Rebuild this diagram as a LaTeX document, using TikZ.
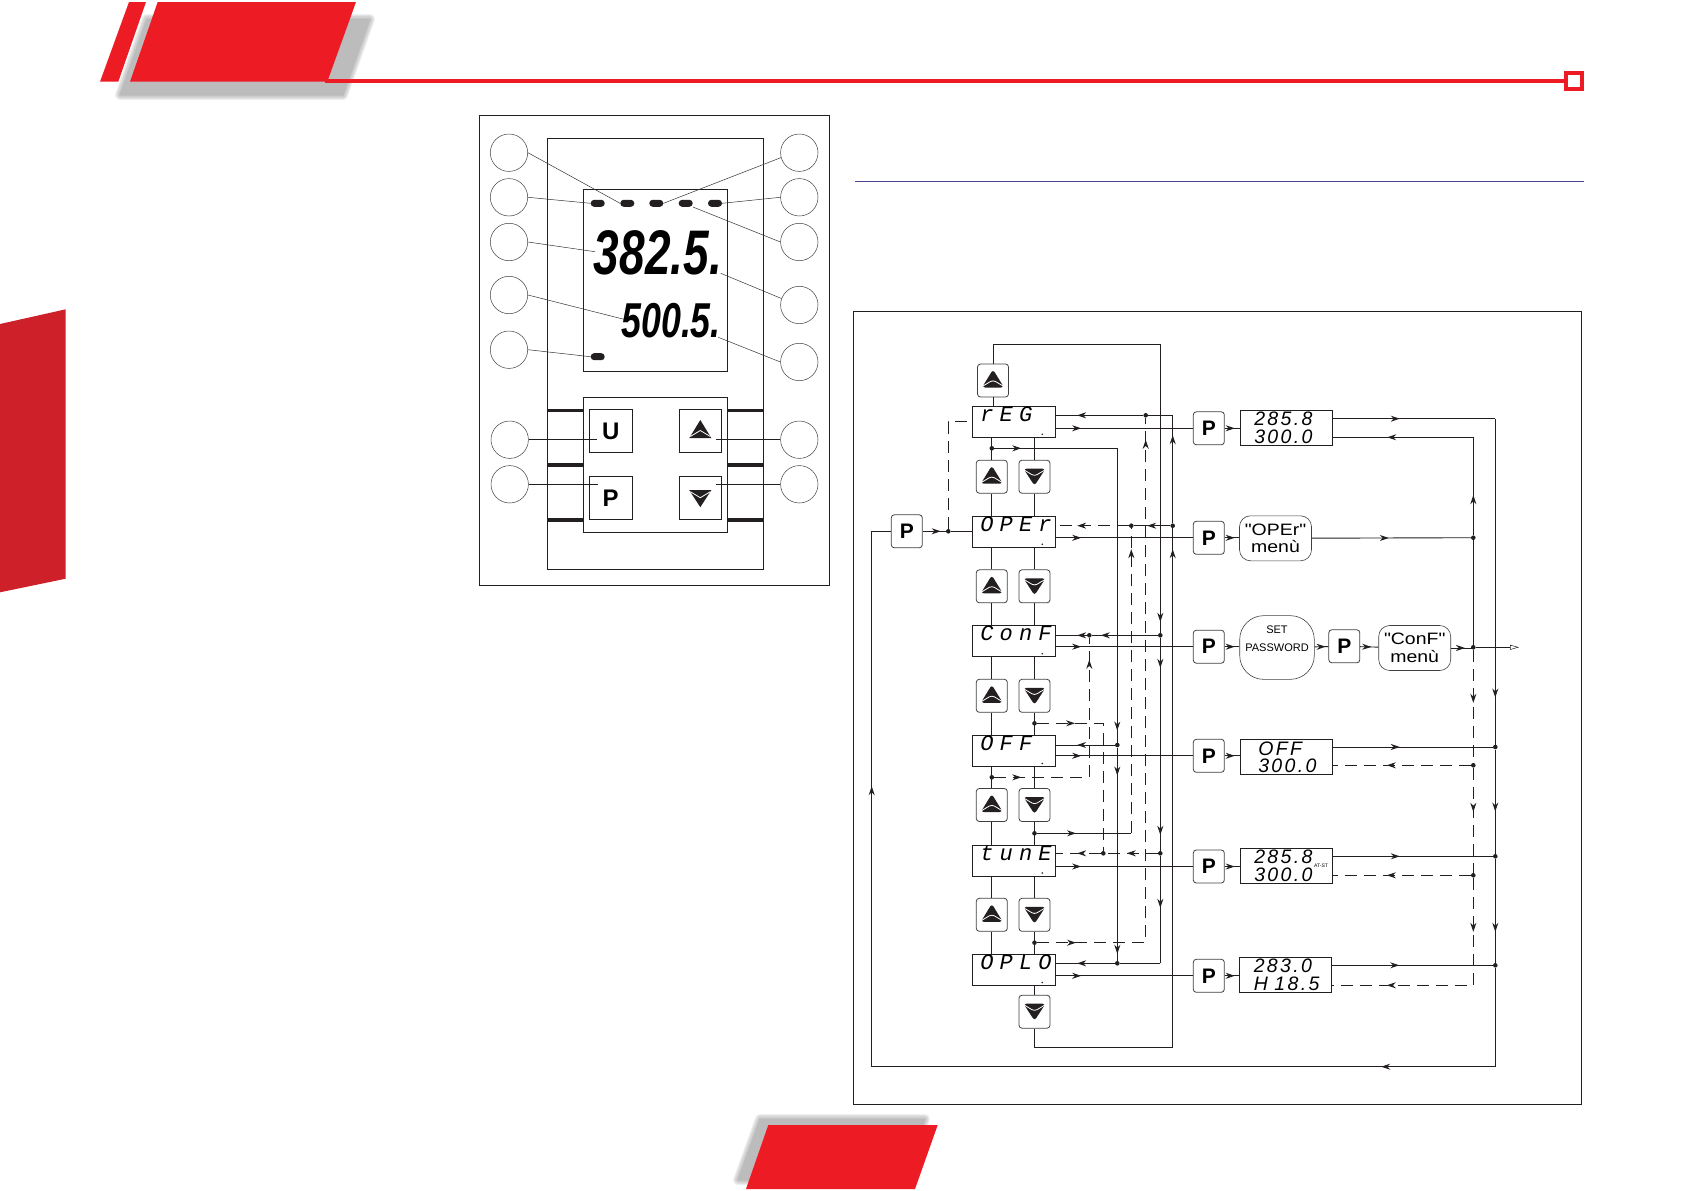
\documentclass[tikz,border=0pt]{standalone}
\usepackage{fontspec}
\setmainfont{Liberation Sans}
\newfontfamily\lcdword[LetterSpace=28]{Liberation Mono}
\newfontfamily\lcdnum[LetterSpace=12]{Liberation Sans}
\newfontfamily\lcdbig[FakeStretch=0.73]{Liberation Sans}
\newfontfamily\menufont[FakeStretch=1.18]{Liberation Sans}
\usetikzlibrary{arrows.meta,calc,decorations.markings}
\definecolor{brandred}{HTML}{ED1C24}
\definecolor{sidered}{HTML}{CE2029}
\definecolor{inkdark}{HTML}{231F20}
\definecolor{rulepurple}{HTML}{4A4590}

\begin{document}
\begin{tikzpicture}[
    x=1pt, y=-1pt,
    % Styles for the front panel
    panelbox/.style={rectangle, draw=inkdark, line width=1pt, inner sep=0pt},
    callout/.style={circle, draw=black!75, line width=0.5pt, minimum size=37.4pt, inner sep=0pt},
    calloutline/.style={draw=black!80, line width=0.5pt},
    pinline/.style={draw=inkdark, line width=0.8pt},
    led/.style={rectangle, fill=inkdark, rounded corners=3.4pt, minimum width=14pt, minimum height=7pt, inner sep=0pt},
    panelkey/.style={rectangle, draw=inkdark, line width=0.9pt, minimum size=42.6pt, inner sep=0pt,
        font=\fontsize{24}{24}\selectfont\bfseries},
    % Styles for the flow chart
    flowkey/.style={rectangle, draw=black!75, line width=0.8pt, rounded corners=3pt, minimum width=31pt,
        minimum height=33pt, inner sep=0pt, font=\fontsize{21}{21}\selectfont\bfseries},
    upkey/.style={path picture={
        \begin{scope}[shift={(path picture bounding box.center)}, scale=#1]
            \fill[inkdark] (-11,7) -- (0,-11) -- (11,7) -- cycle;
            \draw[white, line width=0.8pt] (-10,5.5) -- (0,-0.5) -- (10,5.5);
        \end{scope}}},
    downkey/.style={path picture={
        \begin{scope}[shift={(path picture bounding box.center)}, scale=#1]
            \fill[inkdark] (-11,-8) -- (11,-8) -- (0,9) -- cycle;
            \draw[white, line width=0.8pt] (-10,-6.5) -- (0,-0.5) -- (10,-6.5);
        \end{scope}}},
    lcdmode/.style={rectangle, draw=inkdark, line width=0.9pt, inner xsep=8pt, inner ysep=0pt,
        text width=67.4pt, align=left, text height=15pt, text depth=16pt,
        font=\lcdword\itshape\fontsize{22}{22}\selectfont,
        path picture={\fill[inkdark] ($(path picture bounding box.south east)+(-13.5,-3)$) circle (0.9pt);}},
    lcdval/.style={rectangle, draw=inkdark, line width=0.9pt, inner xsep=14pt, inner ysep=0pt, text width=64pt,
        minimum height=35pt, align=left, font=\lcdnum\itshape\fontsize{19.5}{17.5}\selectfont},
    menubox/.style={rectangle, draw=black!75, line width=0.6pt, rounded corners=11pt, minimum width=72pt,
        minimum height=45pt, inner sep=0pt, align=center, font=\menufont\fontsize{16.5}{17.5}\selectfont},
    wire/.style={draw=inkdark, line width=0.9pt},
    dashwire/.style={wire, dash pattern=on 12pt off 7pt},
    dot/.style={circle, fill=inkdark, minimum size=4.6pt, inner sep=0pt},
    tipat/.style={postaction={solid, decorate, decoration={markings,
        mark=at position #1pt with {\arrow[inkdark]{Stealth[length=9pt,width=6pt]}}}}}
]
\useasboundingbox (0,0) rectangle (1684,1191);

% Page furniture: header, side tab, bottom tab
\foreach \w in {10,8,6,3,1} {
    \begin{scope}[transparency group, opacity=0.06]
        \draw[black, line width=\w pt, line join=round, fill=black]
            (120,95) -- (147,19) -- (370,19) -- (343,95) -- cycle;
    \end{scope}
    \begin{scope}[transparency group, opacity=0.06]
        \draw[black, line width=\w pt, line join=round, fill=black]
            (738,1180) -- (760,1119) -- (925,1119) -- (903,1180) -- cycle;
    \end{scope}
}
\fill[brandred] (100,81.7) -- (129,2) -- (146,2) -- (118.3,81.7) -- cycle;
\fill[brandred] (130,81.7) -- (157.7,2) -- (356,2) -- (327.3,81.7) -- cycle;
\fill[sidered] (0,324) -- (65.7,309.3) -- (65.7,578.7) -- (0,592.3) -- cycle;
\fill[brandred] (746,1189) -- (768.3,1125) -- (937.7,1125) -- (915,1189) -- cycle;
\draw[brandred, line width=4pt] (325,81) -- (1566,81);
\node[rectangle, draw=brandred, line width=4pt, fill=white, minimum size=16pt, inner sep=0pt] (endmark) at (1574,80.7) {};
\draw[rulepurple, line width=1pt] (855,181.3) -- (1584,181.3);

% Front panel frame
\node[panelbox, minimum width=350.4pt, minimum height=470pt] (panelframe) at (654.5,350) {};
\node[panelbox, minimum width=215.6pt, minimum height=431pt] (bodybox) at (655.5,353.8) {};
\node[panelbox, minimum width=144pt, minimum height=182pt] (displaybox) at (655.3,280.3) {};
\node[panelbox, minimum width=144pt, minimum height=135.4pt] (keybox) at (655.3,465) {};

% Thick bars beside the keys
\foreach \y in {410.3,465,519.7} {
    \draw[inkdark, line width=3.6pt] (bodybox.west |- 0,\y) -- (keybox.west |- 0,\y);
    \draw[inkdark, line width=3.6pt] (keybox.east |- 0,\y) -- (bodybox.east |- 0,\y);
}

% Display
\foreach \i/\x in {1/597.7,2/627.3,3/656.3,4/685.7,5/715} {
    \node[led] (led\i) at (\x,203.3) {};
}
\node[led] (led6) at (597.7,356.7) {};
\node[font=\lcdbig\bfseries\itshape\fontsize{63}{63}\selectfont, anchor=east, inner sep=0pt] (pvtext) at (722,252.5) {382.5.};
\node[font=\lcdbig\bfseries\itshape\fontsize{49}{49}\selectfont, anchor=east, inner sep=0pt] (svtext) at (721,320.5) {500.5.};

% Panel keys
\node[panelkey] (keyU) at (610.7,431) {U};
\node[panelkey] (keyP) at (610.7,498.2) {P};
\node[panelkey, upkey=1.2] (keyUp) at (700.3,431) {};
\node[panelkey, downkey=1.2] (keyDn) at (700.3,498.2) {};

% Callout circles
\foreach \i/\y in {1/152.7,2/197.3,3/242,4/295,5/349.7} {
    \node[callout] (cl\i) at (509,\y) {};
}
\node[callout] (cl6) at (509.7,439.7) {};
\node[callout] (cl7) at (509.7,484.3) {};
\foreach \i/\y in {1/152.7,2/197.3,3/242,4/305,5/362,6/439.7,7/484.3} {
    \node[callout] (cr\i) at (799.3,\y) {};
}

% Free ends of the callout lines
\coordinate (pinPV) at (595,251.7);
\coordinate (pinSV) at (624,319.3);
\coordinate (pinPVd) at (720.7,273.3);
\coordinate (pinSVd) at (718.3,337.3);
\coordinate (pinU) at (597.3,439.7);
\coordinate (pinP) at (598.3,484.3);
\coordinate (pinUp) at (716,439.7);
\coordinate (pinDn) at (716,484.3);

\draw[calloutline] (cl1.east) -- (led2.west);
\draw[calloutline] (cl2.east) -- (led1.west);
\draw[calloutline] (cl3.east) -- (pinPV);
\draw[calloutline] (cl4.east) -- (pinSV);
\draw[calloutline] (cl5.east) -- (led6.west);
\draw[calloutline] (cr1.195) -- (led3.east);
\draw[calloutline] (cr2.west) -- (led5.east);
\draw[calloutline] (cr3.west) -- (led4.south east);
\draw[calloutline] (cr4.160) -- (pinPVd);
\draw[calloutline] (cr5.west) -- (pinSVd);
\draw[pinline] (cl6.east) -- (pinU);
\draw[pinline] (cl7.east) -- (pinP);
\draw[pinline] (cr6.west) -- (pinUp);
\draw[pinline] (cr7.west) -- (pinDn);

% Flow chart frame
\node[panelbox, minimum width=728.4pt, minimum height=793.3pt] (flowframe) at (1217.5,708.3) {};

% Mode displays
\node[lcdmode] (reg) at (1014,421.8) {rEG};
\node[lcdmode] (oper) at (1014,531.8) {OPEr};
\node[lcdmode] (conf) at (1014,641.3) {ConF};
\node[lcdmode] (off) at (1014,751) {OFF};
\node[lcdmode] (tune) at (1014,860.5) {tunE};
\node[lcdmode] (oplo) at (1014,970) {OPLO};

% Arrow keys between the displays
\node[flowkey, upkey=1] (uptop) at (993,380.5) {};
\foreach \row/\y in {1/476.7,2/586.3,3/695.8,4/805,5/914.8} {
    \node[flowkey, upkey=1] (up\row) at (991.8,\y) {};
    \node[flowkey, downkey=1] (dn\row) at (1034.5,\y) {};
}
\node[flowkey, downkey=1] (dnend) at (1034.5,1011.7) {};
\foreach \row/\a/\b in {1/reg/oper,2/oper/conf,3/conf/off,4/off/tune,5/tune/oplo} {
    \draw[wire] (up\row) -- (up\row |- \a.south);
    \draw[wire] (up\row) -- (up\row |- \b.north);
    \draw[wire] (dn\row) -- (dn\row |- \a.south);
    \draw[wire] (dn\row) -- (dn\row |- \b.north);
}
\draw[wire] (uptop) -- (uptop |- reg.north);
\draw[wire] (dnend) -- (dnend |- oplo.south);

% P keys and right hand displays
\node[flowkey] (pkey) at (906.8,531.3) {P};
\node[flowkey] (regP) at (1208.8,428.3) {P};
\node[flowkey] (operP) at (1208.8,537.8) {P};
\node[flowkey] (confP) at (1208.8,646.7) {P};
\node[flowkey] (offP) at (1208.8,755.8) {P};
\node[flowkey] (tuneP) at (1208.8,866.5) {P};
\node[flowkey] (oploP) at (1208.8,975.8) {P};
\node[lcdval] (regval) at (1286.3,427.8) {285.8\\300.0};
\node[menubox] (operm) at (1275.5,538.3) {"OPEr"\\menù};
\node[menubox, minimum width=74.6pt, minimum height=63.7pt, rounded corners=24pt, font=\fontsize{11}{18}\selectfont] (setpw) at (1277,647.5) {SET\\PASSWORD\\~};
\node[flowkey] (confPb) at (1344.3,646.3) {P};
\node[menubox] (confm) at (1414.7,648) {"ConF"\\menù};
\node[lcdval, inner xsep=18pt, text width=56pt] (offval) at (1286.3,757.3) {OFF\\300.0};
\node[lcdval] (tuneval) at (1286.3,865.8) {285.8\\300.0};
\node[font=\fontsize{5}{5}\selectfont, inner sep=0pt] (tunetag) at (1321,866) {AT-ST};
\node[lcdval] (oploval) at (1285.8,974.8) {283.0\\\mbox{H 18.5}};

% Junctions
\node[dot] (dotA) at (991.8,448.3) {};
\node[dot] (dotB) at (1034.5,723.3) {};
\node[dot] (dotC) at (991.8,777.3) {};
\node[dot] (dotD) at (1034.5,833.3) {};
\node[dot] (dotE) at (1034.5,942.7) {};
\node[dot] (dotP) at (948.3,531.3) {};
\node[dot] (regJa) at (1145.7,415.3) {};
\node[dot] (operJa) at (1131.3,525.7) {};
\node[dot] (operJb) at (1172.7,525.7) {};
\node[dot] (confJa) at (1089.3,635.3) {};
\node[dot] (confJb) at (1160.3,635.3) {};
\node[dot] (offJ) at (1117.3,745) {};
\node[dot] (tuneJa) at (1103.3,853.3) {};
\node[dot] (tuneJb) at (1160.3,853.3) {};
\node[dot] (oploJ) at (1117.3,963.3) {};
\node[dot] (operR) at (1473.3,537.7) {};
\node[dot] (confR) at (1473.3,647.3) {};
\node[dot] (offD) at (1473.3,765.3) {};
\node[dot] (tuneD) at (1473.3,875.3) {};
\node[dot] (offR) at (1495.3,747) {};
\node[dot] (tuneR) at (1495.3,856.3) {};
\node[dot] (oploR) at (1495.3,965.3) {};

% Corners and free ends
\coordinate (ctop) at (1160.3,344.3);
\coordinate (cdrop) at (1160.3,963.3);
\coordinate (cbot) at (1172.7,1047.3);
\coordinate (cregr) at (1172.7,415.3);
\coordinate (cE) at (1145.7,942.7);
\coordinate (cD) at (1131.3,833.3);
\coordinate (cC) at (1089.3,777.3);
\coordinate (cA) at (1117.3,448.3);
\coordinate (cB) at (1103.3,723.3);
\coordinate (regout) at (1495.3,418.7);
\coordinate (regin) at (1473.3,437.3);
\coordinate (cdash) at (1473.3,985.3);
\coordinate (botR) at (1495.3,1066.7);
\coordinate (botL) at (871.7,1066.7);
\coordinate (exit) at (1519,647.3);

% Return lines into the mode displays
\draw[wire] (uptop) |- (ctop);
\draw[wire, tipat=-11] (ctop) -- (confJb);
\draw[wire, tipat=30, tipat=-16] (confJb) -- (tuneJb);
\draw[wire, tipat=52] (tuneJb) -- (cdrop);
\draw[wire, tipat=-21] (cdrop) -- (oploJ) -- (oplo.east |- oploJ);
\draw[wire, tipat=-21] (dnend) |- (cbot) -- (operJb);
\draw[wire, tipat=88] (operJb) -- (cregr) -- (regJa);
\draw[wire, tipat=-21] (regJa) -- (reg.east |- regJa);
\draw[dashwire, tipat=39, tipat=-22] (dotE) -- (cE) -- (regJa);
\draw[wire, tipat=23] (operJb) -- (operJa);
\draw[dashwire, tipat=-21] (operJa) -- (oper.east |- operJa);
\draw[wire, tipat=39] (dotD) -- (cD);
\draw[dashwire, tipat=-21] (cD) -- (operJa);
\draw[wire, tipat=57] (confJb) -- (confJa);
\draw[wire, tipat=-21] (confJa) -- (conf.east |- confJa);
\draw[dashwire, tipat=27, tipat=-22] (dotC) -- (cC) -- (confJa);
\draw[wire, tipat=27, tipat=-12] (dotA) -- (cA) -- (offJ);
\draw[wire, tipat=-21] (offJ) -- (off.east |- offJ);
\draw[wire, tipat=28, tipat=-7] (offJ) -- (oploJ);
\draw[dashwire, tipat=31] (tuneJb) -- (tuneJa);
\draw[dashwire, tipat=-21] (tuneJa) -- (tune.east |- tuneJa);
\draw[dashwire, tipat=38] (dotB) -- (cB) -- (tuneJa);

% Mode displays to P keys
\foreach \mode/\key in {reg/regP,oper/operP,conf/confP,off/offP,tune/tuneP,oplo/oploP} {
    \draw[wire, tipat=25] (\key -| \mode.east) -- (\key);
}
\foreach \key/\val in {regP/regval,operP/operm,confP/setpw,offP/offval,tuneP/tuneval,oploP/oploval} {
    \draw[wire, tipat=10] (\key) -- (\key -| \val.west);
}
\draw[wire, tipat=11] (setpw) -- (confPb);
\draw[wire, tipat=11] (confPb) -- (confm);

% Entry key
\draw[wire, tipat=18] (pkey) -- (dotP) -- (oper.west |- dotP);
\draw[dashwire] (dotP) |- (reg);

% Value displays back to the right hand bus
\draw[wire, tipat=67] (regout -| regval.east) -- (regout);
\draw[wire, tipat=-47] (regout) -- (offR);
\draw[wire, tipat=62] (offR) -- (tuneR);
\draw[wire, tipat=73] (tuneR) -- (oploR);
\draw[wire, tipat=213, tipat=1003] (oploR) -- (botR) -- (botL) -- (botL |- pkey) -- (pkey);
\draw[wire, tipat=67] (offR -| offval.east) -- (offR);
\draw[wire, tipat=67] (tuneR -| tuneval.east) -- (tuneR);
\draw[wire, tipat=67] (oploR -| oploval.east) -- (oploR);
\draw[wire, tipat=40, tipat=184] (operR) -- (regin) -- (regin -| regval.east);
\draw[wire] (confR) -- (operR);
\draw[wire, tipat=77] (operm) -- (operR);
\draw[wire, tipat=14] (confm.east) -- (confm.east -| confR);
\draw[wire, -{Stealth[length=9pt,width=5pt,inset=0pt,fill=white,line width=0.5pt]}] (confR) -- (exit);
\draw[dashwire, tipat=53] (confR) -- (offD);
\draw[dashwire, tipat=44] (offD) -- (tuneD);
\draw[dashwire, tipat=54, tipat=194] (tuneD) -- (cdash) -- (cdash -| oploval.east);
\draw[dashwire, tipat=84] (offD) -- (offD -| offval.east);
\draw[dashwire, tipat=84] (tuneD) -- (tuneD -| tuneval.east);

\end{tikzpicture}
\end{document}
